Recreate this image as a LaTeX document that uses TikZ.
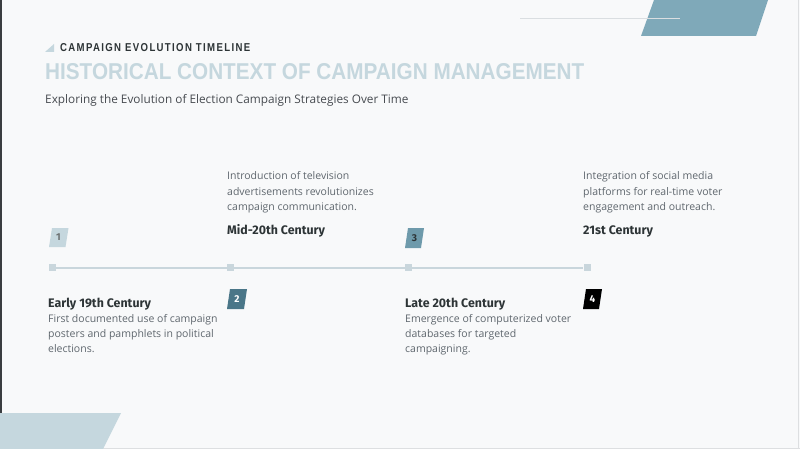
\documentclass[tikz,border=0pt]{standalone}
\usepackage{fontspec}
\usepackage{graphicx}
\setmainfont{Open Sans}
\newfontfamily\headfont{Fira Sans}
\newfontfamily\titlefont{Liberation Sans}
\newfontfamily\kickerfont[LetterSpace=14]{Liberation Sans}
\definecolor{bg}{HTML}{F8F9FA}
\definecolor{edgedark}{HTML}{3A3D40}
\definecolor{edgelight}{HTML}{DDDFE1}
\definecolor{accent}{HTML}{7FA9B9}
\definecolor{pale}{HTML}{C5D7DE}
\definecolor{rulec}{HTML}{DADEE1}
\definecolor{tlc}{HTML}{C9D6DC}
\definecolor{dark}{HTML}{2D3436}
\definecolor{desc}{HTML}{5F676E}
\definecolor{sub}{HTML}{474B50}
\definecolor{teal}{HTML}{4A7688}
\definecolor{midteal}{HTML}{6E9AAB}
\tikzset{
  descline/.style={anchor=base west,inner sep=0,font=\fontsize{10.5}{12}\selectfont,text=desc},
  headline/.style={anchor=base west,inner sep=0,font=\headfont\bfseries\fontsize{12.4}{14}\selectfont,text=dark},
  marker/.style={fill=tlc,minimum size=7pt,inner sep=0},
  badgenum/.style={inner sep=0,font=\headfont\bfseries\fontsize{10}{11}\selectfont},
  tl/.style={draw=tlc,line width=2pt}
}
\begin{document}
\begin{tikzpicture}[x=1pt,y=-1pt]
\useasboundingbox (0,0) rectangle (800,449);
\fill[bg] (0,0) rectangle (800,449);
\fill[edgedark] (0,0) rectangle (2,449);
\draw[edgelight] (798.5,0) -- (798.5,449);
\draw[edgelight] (0,448.5) -- (800,448.5);
% decorations
\fill[accent] (654,0) -- (768,0) -- (756,36) -- (641,36) -- cycle;
\draw[rulec,line width=1pt] (520,18.7) -- (680,18.7);
\fill[pale] (0,413) -- (121,413) -- (103,449) -- (0,449) -- cycle;
% header
\fill[pale] (45,52) -- (54,44) -- (54,52) -- cycle;
\node[anchor=base west,inner sep=0,text=dark] (kicker) at (60,51.7)
  {\resizebox{190pt}{8pt}{\kickerfont\bfseries CAMPAIGN EVOLUTION TIMELINE}};
\node[anchor=base west,inner sep=0,text=pale] (title) at (45,79.3)
  {\resizebox{539pt}{16pt}{\titlefont\bfseries HISTORICAL CONTEXT OF CAMPAIGN MANAGEMENT}};
\node[anchor=base west,inner sep=0,text=sub,font=\fontsize{11.8}{13}\selectfont] (subtitle) at (45,104)
  {Exploring the Evolution of Election Campaign Strategies Over Time};
% timeline
\node[marker] (m1) at (52.5,267.5) {};
\node[marker] (m2) at (230.5,267.5) {};
\node[marker] (m3) at (408.5,267.5) {};
\node[marker] (m4) at (587,267.5) {};
\draw[tl] (m1) -- (m2);
\draw[tl] (m2) -- (m3);
\draw[tl] (m3) -- (m4);
% badges
\fill[pale] (49,247) -- (52,228) -- (68.5,228) -- (65.5,247) -- cycle;
\node[badgenum,text=dark!70] (b1) at (58.5,237.5) {1};
\fill[teal] (227,309) -- (230,289) -- (247,289) -- (244,309) -- cycle;
\node[badgenum,text=white] (b2) at (237,299) {2};
\fill[midteal] (405,248) -- (408,228) -- (424,228) -- (421,248) -- cycle;
\node[badgenum,text=dark] (b3) at (414.5,238) {3};
\fill[black] (583,309) -- (586,289) -- (602,289) -- (599,309) -- cycle;
\node[badgenum,text=white] (b4) at (592.5,299) {4};
% column 1
\node[headline] (h1) at (48,307) {Early 19th Century};
\node[descline] (d1a) at (48,322) {First documented use of campaign};
\node[descline] (d1b) at (48,337) {posters and pamphlets in political};
\node[descline] (d1c) at (48,352) {elections.};
% column 2
\node[descline] (d2a) at (227,180) {Introduction of television};
\node[descline] (d2b) at (227,195.5) {advertisements revolutionizes};
\node[descline] (d2c) at (227,210.5) {campaign communication.};
\node[headline] (h2) at (227,234) {Mid-20th Century};
% column 3
\node[headline] (h3) at (405,307) {Late 20th Century};
\node[descline] (d3a) at (405,322) {Emergence of computerized voter};
\node[descline] (d3b) at (405,337) {databases for targeted};
\node[descline] (d3c) at (405,352) {campaigning.};
% column 4
\node[descline] (d4a) at (583,180) {Integration of social media};
\node[descline] (d4b) at (583,195.5) {platforms for real-time voter};
\node[descline] (d4c) at (583,210.5) {engagement and outreach.};
\node[headline] (h4) at (583,234) {21st Century};
\end{tikzpicture}
\end{document}
